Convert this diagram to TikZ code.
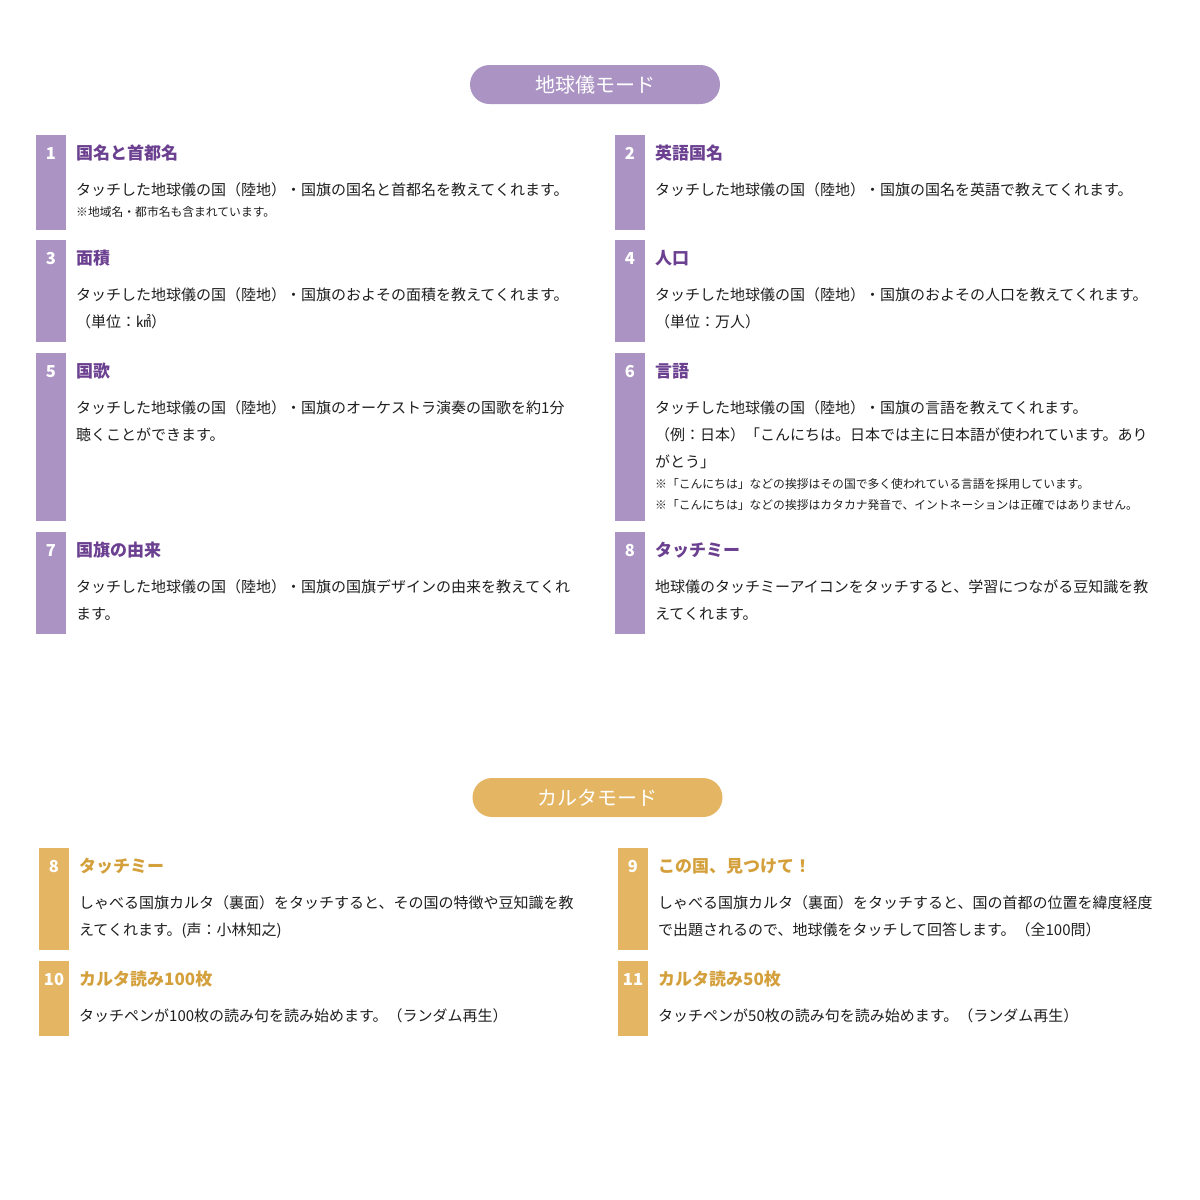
\documentclass[tikz,border=0pt]{standalone}
\usepackage{fontspec}
\setmainfont{Noto Sans CJK JP}
\usepackage{xcolor}
\usepackage{tikz}
\usetikzlibrary{positioning}
\definecolor{globebar}{HTML}{AB94C4}
\definecolor{globetitle}{HTML}{6B4090}
\definecolor{cardbar}{HTML}{E4B664}
\definecolor{cardtitle}{HTML}{D4A03C}
\definecolor{bodytext}{HTML}{1E1E1E}
\tikzstyle{pill} = [rectangle, rounded corners=19.5pt, minimum width=250pt, minimum height=39pt, text=white, font=\fontsize{20}{24}\selectfont]
\tikzstyle{bar} = [rectangle, anchor=north west, minimum width=30pt, inner sep=0pt, outer sep=0pt]
\tikzstyle{num} = [text=white, font=\fontsize{16.5}{18}\selectfont\bfseries, inner sep=0pt]
\tikzstyle{heading} = [anchor=west, font=\fontsize{17}{20}\selectfont\bfseries, inner sep=0pt]
\tikzstyle{body} = [anchor=north west, align=left, text=bodytext, font=\fontsize{15}{27}\selectfont, inner sep=0pt]
\tikzstyle{note} = [anchor=north west, align=left, text=bodytext, font=\fontsize{11.8}{21}\selectfont, inner sep=0pt]

\begin{document}
\begin{tikzpicture}[x=1pt, y=-1pt]
		\useasboundingbox (0,0) rectangle (1200,1200);
		% globe mode
		\node (globe) [pill, fill=globebar] at (595,84.5) {地球儀モード};
		\node (b1) [bar, fill=globebar, minimum height=95pt] at (36,135) {};
		\node (b2) [bar, fill=globebar, minimum height=95pt] at (615,135) {};
		\node (b3) [bar, fill=globebar, minimum height=102pt] at (36,240) {};
		\node (b4) [bar, fill=globebar, minimum height=102pt] at (615,240) {};
		\node (b5) [bar, fill=globebar, minimum height=168pt] at (36,353) {};
		\node (b6) [bar, fill=globebar, minimum height=168pt] at (615,353) {};
		\node (b7) [bar, fill=globebar, minimum height=102pt] at (36,532) {};
		\node (b8) [bar, fill=globebar, minimum height=102pt] at (615,532) {};
		\foreach \b/\n in {b1/1,b2/2,b3/3,b4/4,b5/5,b6/6,b7/7,b8/8}
			\node (n\b) [num] at ([yshift=-18.5pt]\b.north) {\n};
		\node (t1) [heading, text=globetitle] at ([xshift=10pt,yshift=-18pt]b1.north east) {国名と首都名};
		\node (t2) [heading, text=globetitle] at ([xshift=10pt,yshift=-18pt]b2.north east) {英語国名};
		\node (t3) [heading, text=globetitle] at ([xshift=10pt,yshift=-18pt]b3.north east) {面積};
		\node (t4) [heading, text=globetitle] at ([xshift=10pt,yshift=-18pt]b4.north east) {人口};
		\node (t5) [heading, text=globetitle] at ([xshift=10pt,yshift=-18pt]b5.north east) {国歌};
		\node (t6) [heading, text=globetitle] at ([xshift=10pt,yshift=-18pt]b6.north east) {言語};
		\node (t7) [heading, text=globetitle] at ([xshift=10pt,yshift=-18pt]b7.north east) {国旗の由来};
		\node (t8) [heading, text=globetitle] at ([xshift=10pt,yshift=-18pt]b8.north east) {タッチミー};
		\node (d1) [body] at ([xshift=10pt,yshift=-47.5pt]b1.north east) {タッチした地球儀の国（陸地）・国旗の国名と首都名を教えてくれます。};
		\node (m1) [note] at ([xshift=10pt,yshift=-71pt]b1.north east) {※地域名・都市名も含まれています。};
		\node (d2) [body] at ([xshift=10pt,yshift=-47.5pt]b2.north east) {タッチした地球儀の国（陸地）・国旗の国名を英語で教えてくれます。};
		\node (d3) [body] at ([xshift=10pt,yshift=-47.5pt]b3.north east) {タッチした地球儀の国（陸地）・国旗のおよその面積を教えてくれます。\\（単位：㎢）};
		\node (d4) [body] at ([xshift=10pt,yshift=-47.5pt]b4.north east) {タッチした地球儀の国（陸地）・国旗のおよその人口を教えてくれます。\\（単位：万人）};
		\node (d5) [body] at ([xshift=10pt,yshift=-47.5pt]b5.north east) {タッチした地球儀の国（陸地）・国旗のオーケストラ演奏の国歌を約1分\\聴くことができます。};
		\node (d6) [body] at ([xshift=10pt,yshift=-47.5pt]b6.north east) {タッチした地球儀の国（陸地）・国旗の言語を教えてくれます。\\（例：日本）「こんにちは。日本では主に日本語が使われています。あり\\がとう」};
		\node (m6) [note] at ([xshift=10pt,yshift=-125.5pt]b6.north east) {※「こんにちは」などの挨拶はその国で多く使われている言語を採用しています。\\※「こんにちは」などの挨拶はカタカナ発音で、イントネーションは正確ではありません。};
		\node (d7) [body] at ([xshift=10pt,yshift=-47.5pt]b7.north east) {タッチした地球儀の国（陸地）・国旗の国旗デザインの由来を教えてくれ\\ます。};
		\node (d8) [body] at ([xshift=10pt,yshift=-47.5pt]b8.north east) {地球儀のタッチミーアイコンをタッチすると、学習につながる豆知識を教\\えてくれます。};
		% karuta mode
		\node (karuta) [pill, fill=cardbar] at (597.5,797.5) {カルタモード};
		\node (g8) [bar, fill=cardbar, minimum height=102pt] at (39,848) {};
		\node (g9) [bar, fill=cardbar, minimum height=102pt] at (618,848) {};
		\node (g10) [bar, fill=cardbar, minimum height=75pt] at (39,961) {};
		\node (g11) [bar, fill=cardbar, minimum height=75pt] at (618,961) {};
		\foreach \b/\n in {g8/8,g9/9,g10/10,g11/11}
			\node (n\b) [num] at ([yshift=-18.5pt]\b.north) {\n};
		\node (s8) [heading, text=cardtitle] at ([xshift=10pt,yshift=-18pt]g8.north east) {タッチミー};
		\node (s9) [heading, text=cardtitle] at ([xshift=10pt,yshift=-18pt]g9.north east) {この国、見つけて！};
		\node (s10) [heading, text=cardtitle] at ([xshift=10pt,yshift=-18pt]g10.north east) {カルタ読み100枚};
		\node (s11) [heading, text=cardtitle] at ([xshift=10pt,yshift=-18pt]g11.north east) {カルタ読み50枚};
		\node (e8) [body] at ([xshift=10pt,yshift=-47.5pt]g8.north east) {しゃべる国旗カルタ（裏面）をタッチすると、その国の特徴や豆知識を教\\えてくれます。(声：小林知之)};
		\node (e9) [body] at ([xshift=10pt,yshift=-47.5pt]g9.north east) {しゃべる国旗カルタ（裏面）をタッチすると、国の首都の位置を緯度経度\\で出題されるので、地球儀をタッチして回答します。（全100問）};
		\node (e10) [body] at ([xshift=10pt,yshift=-47.5pt]g10.north east) {タッチペンが100枚の読み句を読み始めます。（ランダム再生）};
		\node (e11) [body] at ([xshift=10pt,yshift=-47.5pt]g11.north east) {タッチペンが50枚の読み句を読み始めます。（ランダム再生）};
	\end{tikzpicture}
\end{document}
